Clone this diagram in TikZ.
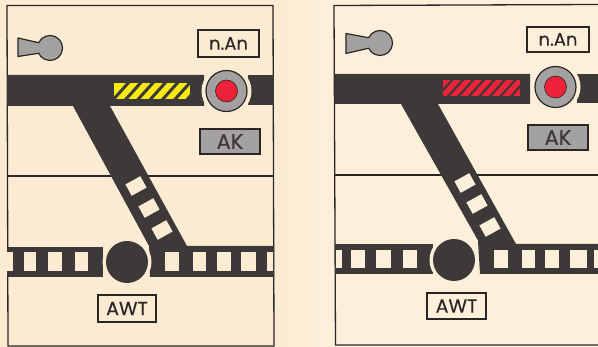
\documentclass[tikz,border=0pt]{standalone}
\usepackage{fontspec}
\setmainfont[FakeBold=0.35]{Poppins}
\definecolor{paperL}{HTML}{FBEBD2}
\definecolor{paperR}{HTML}{FDF0DB}
\definecolor{ink}{HTML}{3D3939}
\definecolor{line}{HTML}{2A2626}
\definecolor{midgray}{HTML}{A3A2A0}
\definecolor{lampred}{HTML}{EE2238}
\definecolor{warnyellow}{HTML}{F7EA12}
\tikzset{
  frameline/.style={draw=line,line width=1.3pt},
  trackfill/.style={fill=ink,draw=none},
  lampring/.style={circle,fill=midgray,draw=line,line width=1.2pt,inner sep=0,minimum size=41pt},
  lampcore/.style={circle,fill=lampred,draw=line,line width=.6pt,inner sep=0,minimum size=22pt},
  bigdisc/.style={circle,fill=ink,inner sep=0,minimum size=42pt},
  labelbox/.style={draw=line,line width=1.3pt,inner sep=0,text=line,align=center},
  graybox/.style={labelbox,fill=midgray,text=ink},
  keyfill/.style={fill=midgray,draw=line,line width=1.2pt,line join=round},
}
\begin{document}
\begin{tikzpicture}[x=1pt,y=-1pt]
\useasboundingbox (0,0) rectangle (598,347);
\fill[paperL] (0,0) rectangle (275,347);
\fill[paperR] (332,0) rectangle (598,347);
\shade[left color=paperL,right color=paperR] (274,0) rectangle (333,347);
\clip (0,0) rectangle (598,347);

% LEFT PANEL
\draw[frameline] (7,5.5) -- (273,5.5) -- (274,346) -- (8,346) -- cycle;
\draw[frameline] (7.5,176) -- (273.5,176);
\fill[trackfill] (7,75) -- (204,75) -- (204,106) -- (110,106) -- (187,246) -- (149,246) -- (73,106) -- (7,106) -- cycle;
\fill[trackfill] (248,75) rectangle (274,105.5);
\fill[trackfill] (7,247) rectangle (103,277);
\fill[trackfill] (149,241) -- (187,246) -- (274,246) -- (274,277) -- (150,277) -- cycle;
\foreach \a/\b in {7/13,24/36,48/62,75/88,165/179,193/206,217/231,241/256,267/273}
  \fill[paperL] (\a,252) rectangle (\b,271);
\foreach \cx/\cy in {136/186,149/208,162/230}
  \fill[paperL,rotate around={29:(\cx,\cy)}] (\cx-8.5,\cy-6.5) rectangle (\cx+8.5,\cy+6.5);
\fill[paperL] (226.5,91) circle (25);
\node[lampring] (lampL) at (226.5,91) {};
\node[lampcore] (coreL) at (226.5,91) {};
\fill[paperL] (127,262) circle (24.5);
\node[bigdisc] (discL) at (127,262) {};
\fill[warnyellow] (114,83) rectangle (190,99);
\begin{scope}
  \clip (114,83) rectangle (190,99);
  \foreach \i in {0,...,7}
    \draw[ink,line width=3pt] (112+12.3*\i,101) -- (112+12.3*\i+18,81);
\end{scope}
\draw[keyfill] (18,38) -- (38.7,42.7) arc[start angle=-155,end angle=155,radius=12.5] -- (18,56.5) -- cycle;
\node[labelbox,minimum width=61pt,minimum height=27pt,font=\fontsize{18}{18}\selectfont] (nanL) at (228.5,43.5) {n.An};
\node[graybox,minimum width=60pt,minimum height=25pt,font=\fontsize{21}{21}\selectfont] (akL) at (230,141.5) {AK};
\node[labelbox,minimum width=58pt,minimum height=27pt,font=\fontsize{19}{19}\selectfont] (awtL) at (127,308.5) {AWT};

% RIGHT PANEL
\draw[frameline] (600,4.5) -- (334,5.5) -- (335.5,345) -- (600,345);
\draw[frameline] (335,175) -- (600,175);
\fill[trackfill] (334.5,74) -- (530,74) -- (530,104) -- (438,104) -- (516,244) -- (480,244) -- (401,104) -- (334.5,104) -- cycle;
\fill[trackfill] (577,74) rectangle (600,103);
\fill[trackfill] (335,244) rectangle (433,274);
\fill[trackfill] (478,241) -- (516,244) -- (600,244) -- (600,274) -- (480,274) -- cycle;
\foreach \a/\b in {336/342,351/365,376/391,403/417,494/508,522/535,545/559,570/587,594/600}
  \fill[paperR] (\a,250) rectangle (\b,268);
\foreach \cx/\cy in {465/183,477/204,490/227}
  \fill[paperR,rotate around={29:(\cx,\cy)}] (\cx-8.5,\cy-6.5) rectangle (\cx+8.5,\cy+6.5);
\fill[paperR] (555.5,87) circle (25);
\node[lampring] (lampR) at (555.5,87) {};
\node[lampcore] (coreR) at (555.5,87) {};
\fill[paperR] (454,260) circle (24.5);
\node[bigdisc] (discR) at (454,260) {};
\fill[lampred] (443,80) rectangle (520,96);
\begin{scope}
  \clip (443,80) rectangle (520,96);
  \foreach \i in {0,...,8}
    \draw[ink,line width=2.2pt] (436+10.5*\i,98) -- (436+10.5*\i+18,78);
\end{scope}
\draw[keyfill] (346,33.5) -- (368.7,37.7) arc[start angle=-155,end angle=155,radius=12.5] -- (346,53.5) -- cycle;
\node[labelbox,minimum width=62pt,minimum height=25pt,font=\fontsize{18}{18}\selectfont] (nanR) at (558,39.5) {n.An};
\node[graybox,minimum width=60pt,minimum height=25pt,font=\fontsize{21}{21}\selectfont] (akR) at (558,137.5) {AK};
\node[labelbox,minimum width=59pt,minimum height=26pt,font=\fontsize{19}{19}\selectfont] (awtR) at (456.5,306) {AWT};
\end{tikzpicture}
\end{document}
